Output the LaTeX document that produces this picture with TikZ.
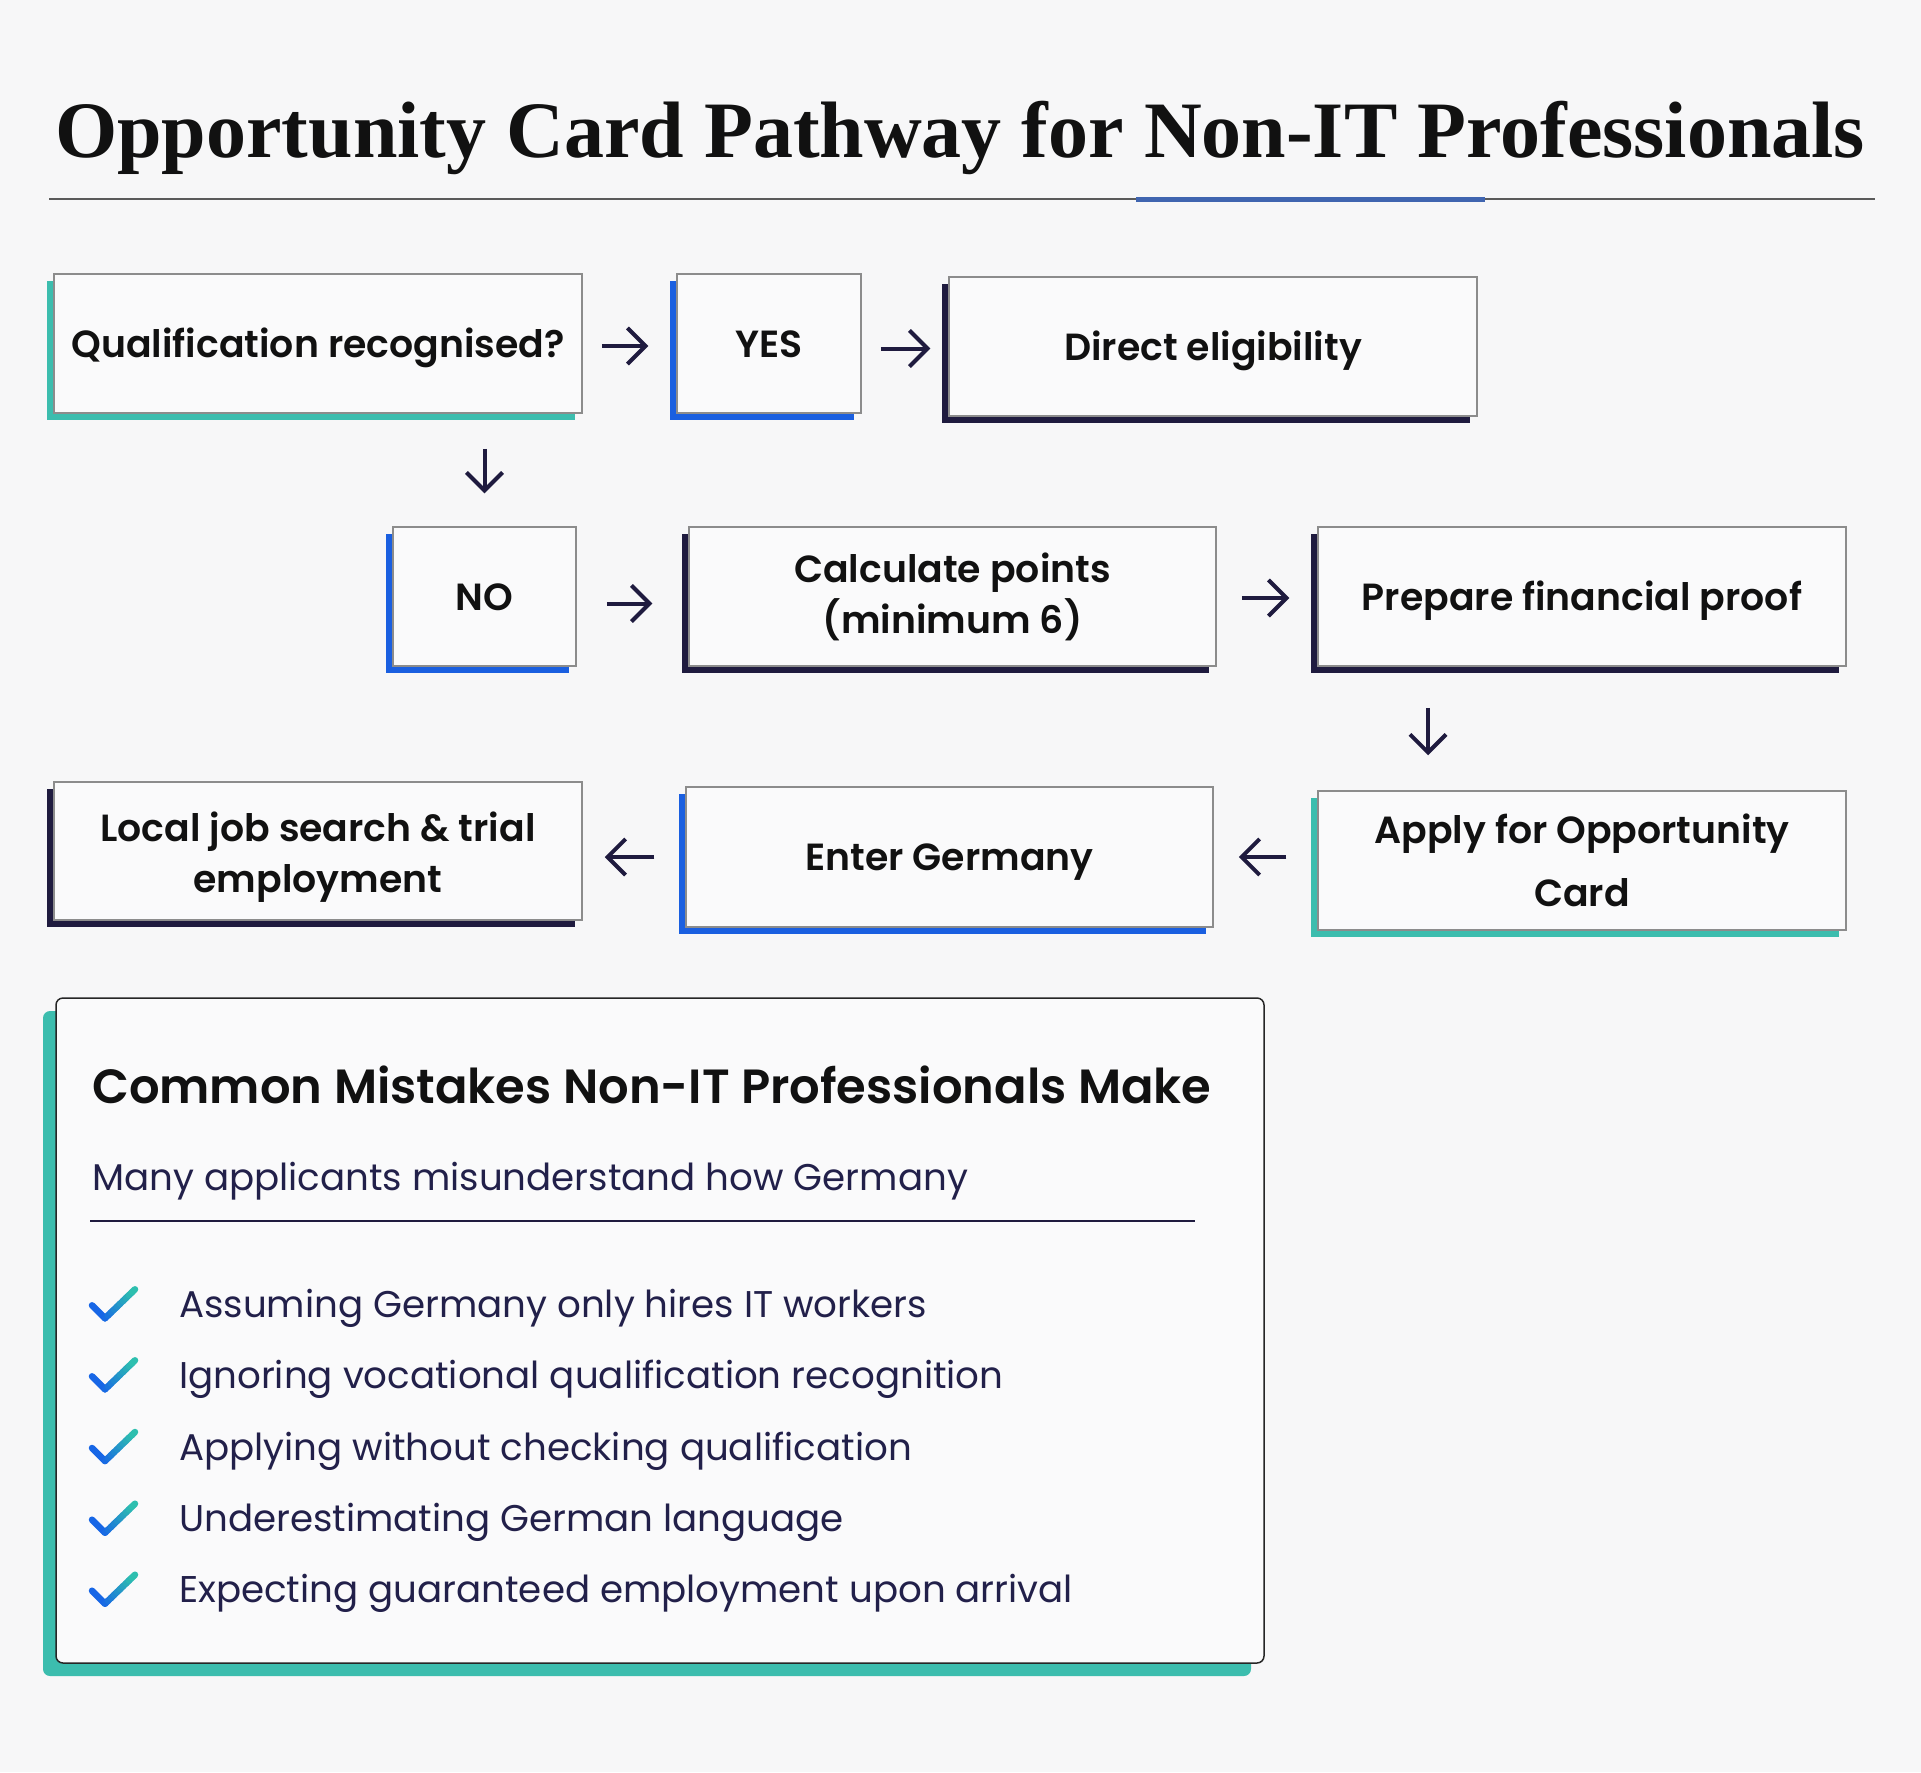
\documentclass[tikz,border=0pt]{standalone}
\usepackage{fontspec}
\setmainfont{Poppins}[BoldFont={Poppins SemiBold}]
\newfontfamily\headfont{Poppins}[BoldFont={Poppins SemiBold}]
\newfontfamily\titlefont{Liberation Serif}
\usetikzlibrary{arrows.meta,shadows,calc}
\definecolor{bg}{HTML}{F7F7F8}
\definecolor{boxfill}{HTML}{FAFAFB}
\definecolor{boxborder}{HTML}{8C8C8C}
\definecolor{tealc}{HTML}{3CBDAE}
\definecolor{bluec}{HTML}{1A5FE0}
\definecolor{navyc}{HTML}{1F1B3F}
\definecolor{txt}{HTML}{111111}
\definecolor{itemtxt}{HTML}{22204A}
\definecolor{rulegray}{HTML}{5A5A5A}
\definecolor{ruleblue}{HTML}{4065B0}
\definecolor{chkblue}{HTML}{1766E6}
\definecolor{chkteal}{HTML}{2EC4AC}
\newcommand\mychk[1]{%
  \draw[line width=6.5pt, line cap=round, line join=round, draw=chkblue] (92,#1-12) -- (105,#1+1);
  \foreach \i in {0,...,9}{%
    \pgfmathsetmacro\pa{\i/10}%
    \pgfmathsetmacro\pb{(\i+1)/10}%
    \pgfmathtruncatemacro\pc{\i*10+5}%
    \draw[line width=6.5pt, line cap=round, draw=chkteal!\pc!chkblue] ($(105,#1+1)!\pa!(135,#1-28)$) -- ($(105,#1+1)!\pb!(135,#1-28)$);
  }%
}
\newcommand\lowtab[2]{\raisebox{-#1}[\height][\depth]{\begin{tabular}{@{}c@{}}#2\end{tabular}}}
\begin{document}
\begin{tikzpicture}[x=1pt,y=-1pt,
  box/.style={draw=boxborder, line width=1.5pt, fill=boxfill, inner sep=0pt, align=center,
    font=\fontsize{37.8}{51}\selectfont\bfseries, text=txt},
  one/.style={text height=27pt, text depth=0pt},
  tsh/.style={general shadow={fill=tealc, shadow xshift=-7pt, shadow yshift=-7pt}},
  bsh/.style={general shadow={fill=bluec, shadow xshift=-7pt, shadow yshift=-7pt}},
  nsh/.style={general shadow={fill=navyc, shadow xshift=-7pt, shadow yshift=-7pt}},
  arr/.style={draw=navyc, line width=4pt, -{Straight Barb[length=18pt,width=36pt]}},
  item/.style={anchor=base west, inner sep=0pt, font=\fontsize{37.2}{44}\selectfont, text=itemtxt},
]
\useasboundingbox[fill=bg] (0,0) rectangle (1921,1772);

% title
\node[anchor=base west, inner sep=0pt, font=\titlefont\bfseries\fontsize{80}{90}\selectfont, text=txt] (title) at (55,157) {Opportunity Card Pathway for Non-IT Professionals};
\draw[rulegray, line width=1.5pt] (49,199) coordinate (r1) -- (1875,199) coordinate (r2);
\draw[ruleblue, line width=5pt] (1136,199) coordinate (b1) -- (1485,199) coordinate (b2);

% boxes
\node[box, one, tsh, minimum width=528pt, minimum height=139pt] (q) at (318,343.5) {Qualification recognised?};
\node[box, one, bsh, minimum width=184pt, minimum height=139pt] (yes) at (769,343.5) {YES};
\node[box, one, nsh, minimum width=528pt, minimum height=139pt] (direct) at (1213,346.5) {Direct eligibility};
\node[box, one, bsh, minimum width=183pt, minimum height=139pt] (no) at (484.5,596.5) {NO};
\node[box, nsh, minimum width=527pt, minimum height=139pt] (calc) at (952.5,596.5) {Calculate points\\(minimum 6)};
\node[box, one, nsh, minimum width=528pt, minimum height=139pt] (prep) at (1582,596.5) {Prepare financial proof};
\node[box, nsh, minimum width=528pt, minimum height=138pt] (local) at (318,851) {\lowtab{6pt}{Local job search \& trial\\employment}};
\node[box, one, bsh, minimum width=527pt, minimum height=140pt] (enter) at (949.5,857) {Enter Germany};
\node[box, tsh, minimum width=528pt, minimum height=139pt, font=\fontsize{37.8}{63}\selectfont\bfseries] (apply) at (1582,860.5) {Apply for Opportunity\\Card};

% arrows
\draw[arr, shorten <=19pt, shorten >=28pt] ([yshift=-2.5pt]q.east) -- ([yshift=-2.5pt]q.east -| yes.west);
\draw[arr, shorten <=19pt, shorten >=18pt] ([yshift=-5pt]yes.east) -- ([yshift=-5pt]yes.east -| direct.west);
\draw[arr, shorten <=35pt, shorten >=33pt] (no.north |- q.south) -- (no.north);
\draw[arr, shorten <=30pt, shorten >=36pt] ([yshift=-7pt]no.east) -- ([yshift=-7pt]no.east -| calc.west);
\draw[arr, shorten <=25pt, shorten >=28pt] ([yshift=-1.5pt]calc.east) -- ([yshift=-1.5pt]calc.east -| prep.west);
\draw[arr, shorten <=41pt, shorten >=35pt] ([xshift=-154pt]prep.south) -- ([xshift=-154pt]prep.south |- apply.north);
\draw[arr, shorten <=31pt, shorten >=25pt] ([yshift=3.5pt]apply.west) -- ([yshift=3.5pt]apply.west -| enter.east);
\draw[arr, shorten <=31pt, shorten >=22pt] (enter.west) -- (enter.west -| local.east);

% panel
\node[draw=black!85, line width=1.5pt, fill=boxfill, rounded corners=7pt, inner sep=0pt,
  minimum width=1208pt, minimum height=665pt,
  general shadow={fill=tealc, shadow xshift=-13pt, shadow yshift=-13pt}] (panel) at (660,1330.5) {};
\node[anchor=base west, inner sep=0pt, font=\headfont\fontsize{48}{60}\selectfont\bfseries, text=txt] (head) at (92,1103) {Common Mistakes Non-IT Professionals Make};
\node[anchor=base west, inner sep=0pt, font=\fontsize{37.2}{44}\selectfont, text=itemtxt] (sub) at (92,1190) {Many applicants misunderstand how Germany};
\draw[navyc, line width=2.5pt] (90,1221) coordinate (u1) -- (1195,1221) coordinate (u2);

\node[item] (i1) at (179,1317.3) {Assuming Germany only hires IT workers};
\node[item] (i2) at (179,1388.3) {Ignoring vocational qualification recognition};
\node[item] (i3) at (179,1460) {Applying without checking qualification};
\node[item] (i4) at (179,1531.7) {Underestimating German language};
\node[item] (i5) at (179,1602.7) {Expecting guaranteed employment upon arrival};
\mychk{1317.3}
\mychk{1388.3}
\mychk{1460}
\mychk{1531.7}
\mychk{1602.7}
\end{tikzpicture}
\end{document}
